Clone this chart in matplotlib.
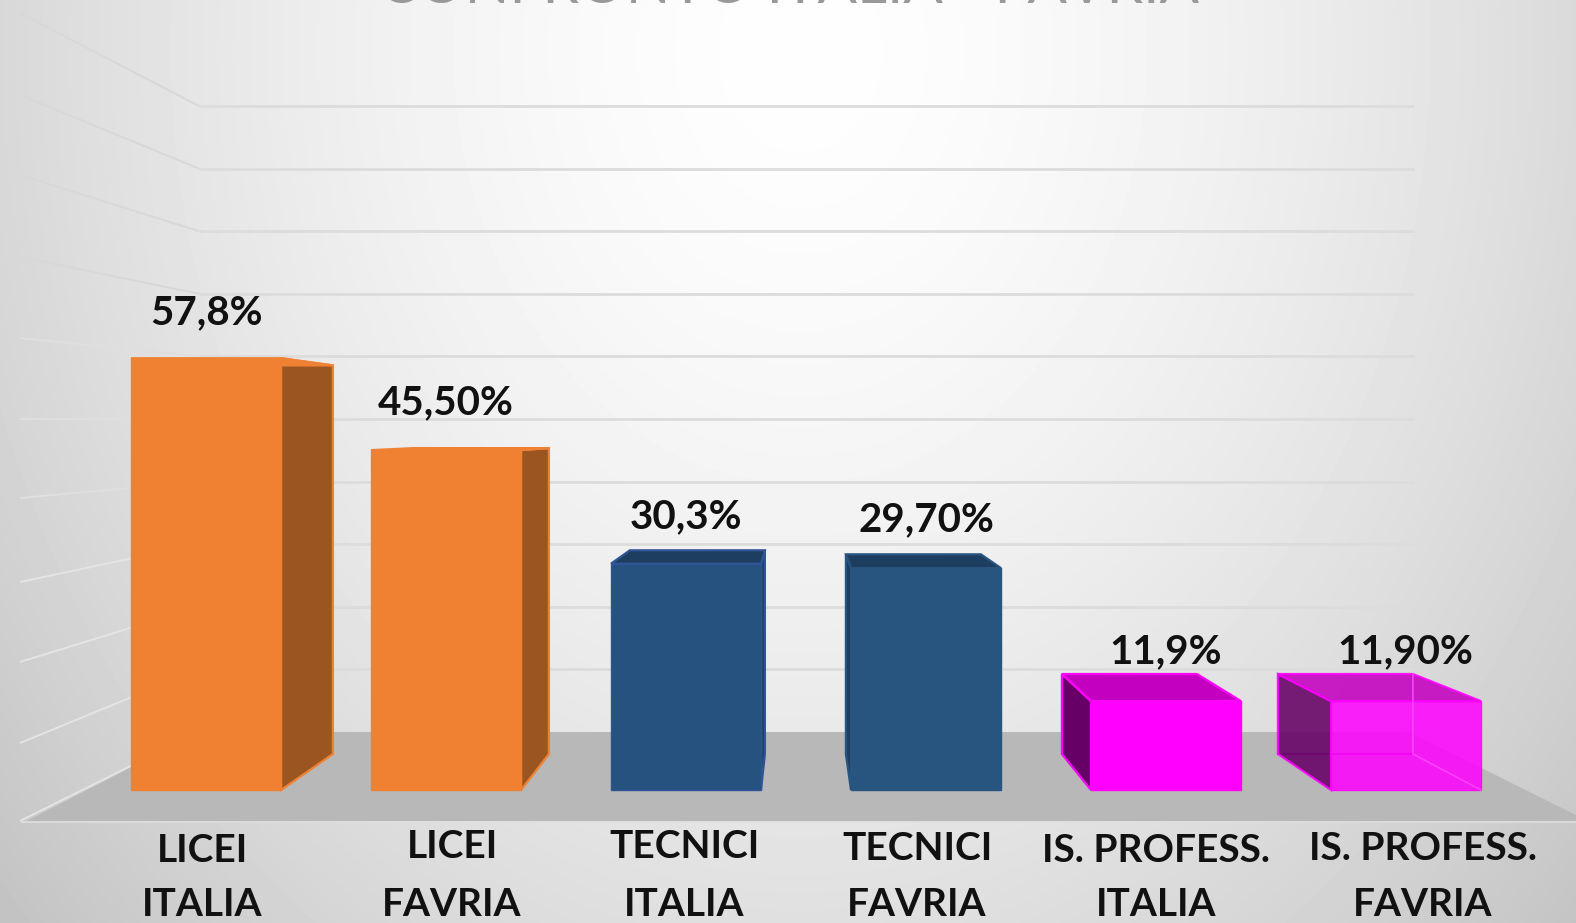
import numpy as np
import matplotlib
matplotlib.use("Agg")
import matplotlib.pyplot as plt
from matplotlib.patches import Polygon

# ---- data ----
categories = [("LICEI", "ITALIA"), ("LICEI", "FAVRIA"), ("TECNICI", "ITALIA"),
              ("TECNICI", "FAVRIA"), ("IS. PROFESS.", "ITALIA"), ("IS. PROFESS.", "FAVRIA")]
values = [57.8, 45.5, 30.3, 29.7, 11.9, 11.9]
value_labels = ["57,8%", "45,50%", "30,3%", "29,70%", "11,9%", "11,90%"]
title = "CONFRONTO ITALIA - FAVRIA"
wall_levels = [0, 10, 20, 30, 40, 50, 60, 70, 80, 90, 100]

# ---- styles ----
front_cols = ["#F08133", "#F08133", "#25527F", "#27557F", "#FF00FF", "#FF00FF"]
side_cols = ["#9A5521", "#9A5521", "#1E3E60", "#1E3E60", "#660066", "#660066"]
top_cols = ["#F08133", "#F08133", "#1E3E60", "#1E3E60", "#C400C0", "#C400C0"]
edge_cols = ["#F08133", "#F08133", "#2F5597", "#27557F", "#FF00FF", "#FF00FF"]
alphas = [1, 1, 1, 1, 1, 0.86]

W, H = 1576, 923
FONT = ["Lato", "DejaVu Sans"]

fig = plt.figure(figsize=(W / 100, H / 100), dpi=100)

# background gradient
bg = fig.add_axes([0, 0, 1, 1], zorder=0)
yy, xx = np.mgrid[0:H, 0:W]
t2 = ((xx - 800) / 800.0) ** 2 + ((yy - 50) / 1000.0) ** 2
g = np.clip(254 - 38 * t2 ** 0.8, 0, 255) / 255
bg.imshow(g, cmap="gray", vmin=0, vmax=1, aspect="auto", extent=(0, W, H, 0))
bg.axis("off")

# main axes: x = category index, y = percent
ax = fig.add_axes([0, 0, 1, 1], zorder=1)
ax.patch.set_alpha(0)
PX_CAT, X0 = 240.0, 206.0
PX_VAL, Y0 = 7.47, 790.0
ax.set_xlim((0 - X0) / PX_CAT, (W - X0) / PX_CAT)
ax.set_ylim((Y0 - H) / PX_VAL, (Y0 - 0) / PX_VAL)
ax.axis("off")
X = lambda p: (p - X0) / PX_CAT
Y = lambda p: (Y0 - p) / PX_VAL

# wall gridlines
WALL_BASE, WALL_STEP = 732.0, 62.6
left_ends = [821, 743, 662, 582, 498, 419, 338, 257, 175, 95, 13]
for lev, ly in zip(wall_levels, left_ends):
    py = WALL_BASE - lev / 10 * WALL_STEP
    if lev > 0:
        ax.plot([X(199), X(1414)], [Y(py), Y(py)], color="#DCDCDC", lw=2.0, zorder=1, solid_capstyle="butt")
    col = "#E4E4E4" if lev <= 30 else ("#D8D8D8" if lev >= 70 else "#DFDFDF")
    ax.plot([X(20), X(199)], [Y(ly), Y(py)], color=col, lw=1.4, zorder=1, solid_capstyle="butt")

# floor
floor = [(X(27), Y(821)), (X(199), Y(732)), (X(1409), Y(732)), (X(1576), Y(815)), (X(1576), Y(821))]
ax.add_patch(Polygon(floor, closed=True, fc="#B8B8B8", ec="none", zorder=2))
ax.plot([X(22), X(1576)], [Y(822), Y(822)], color="#DEDEDE", lw=1.2, zorder=2)

# 3D bars: back face is the front face scaled towards a vanishing point
WIDTH = 150 / PX_CAT
VX, VY = X(800), Y(430)
K = 0.9
back = lambda x, y: (VX + K * (x - VX), VY + K * (y - VY))

for i, v in enumerate(values):
    x0, x1 = i - WIDTH / 2, i + WIDTH / 2
    a = alphas[i]
    bl0, bl1, br0, br1 = back(x0, 0), back(x0, v), back(x1, 0), back(x1, v)
    if x1 < VX:
        side = [(x1, 0), (x1, v), br1, br0]
    else:
        side = [(x0, 0), (x0, v), bl1, bl0]
    if a < 1:  # see-through bar: inner edges
        ax.plot([br1[0], br0[0], x1], [br1[1], br0[1], 0], color="#FF40FF", lw=1.2, zorder=5)
        ax.plot([bl0[0], br0[0]], [bl0[1], br0[1]], color="#B010B0", lw=1.2, zorder=3)
    ax.add_patch(Polygon(side, closed=True, fc=side_cols[i], ec=edge_cols[i], lw=1.6, zorder=3,
                         alpha=0.88 if a < 1 else 1))
    ax.add_patch(Polygon([(x0, v), (x1, v), br1, bl1], closed=True, fc=top_cols[i], ec=edge_cols[i],
                         lw=1.6, zorder=3, alpha=0.88 if a < 1 else 1))

ax.bar(range(len(values)), values, width=WIDTH, color=front_cols, edgecolor=edge_cols,
       linewidth=1.0, zorder=4)
ax.patches[-1].set_alpha(alphas[-1])

# value labels
label_pos = [(207, 313), (446, 403), (686, 517), (926, 520), (1166, 652), (1405, 652)]
for s, (px, py) in zip(value_labels, label_pos):
    ax.text(X(px), Y(py), s, family=FONT, weight="bold", fontsize=29, color="#111111",
            ha="center", va="center", zorder=6)

# category labels
cat_pos = [(202, 850, 905), (452, 847, 904), (684, 847, 904),
           (917, 849, 905), (1156, 851, 905), (1423, 849, 905)]
for (l1, l2), (px, p1, p2) in zip(categories, cat_pos):
    ax.text(X(px), Y(p1), l1, family=FONT, weight="bold", fontsize=28, color="#111111",
            ha="center", va="center", zorder=6)
    ax.text(X(px), Y(p2), l2, family=FONT, weight="bold", fontsize=28, color="#111111",
            ha="center", va="center", zorder=6)

# title, cut by the top edge
ax.text(X(789), Y(3), title, family=FONT, fontsize=42, color="#999999",
        ha="center", va="baseline", zorder=6, clip_on=True)

fig.savefig("out.png", dpi=100)
